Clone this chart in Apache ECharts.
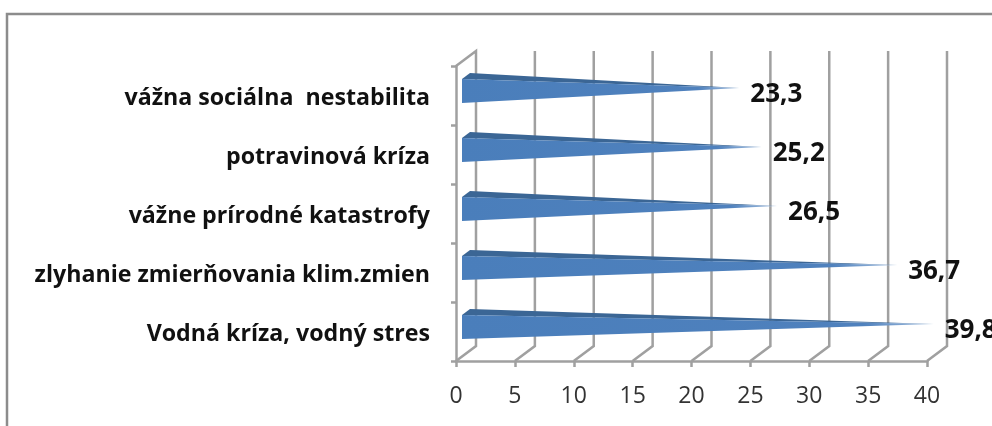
<!DOCTYPE html>
<html>
<head>
<meta charset="utf-8">
<style>html,body{margin:0;padding:0;background:#fff}#c{width:992px;height:426px}</style>
<script src="https://cdn.jsdelivr.net/npm/echarts@6/dist/echarts.min.js"></script>
</head>
<body>
<div id="c"></div>
<script>
const categories = ['Vodná kríza, vodný stres','zlyhanie zmierňovania klim.zmien','vážne prírodné katastrofy','potravinová kríza','vážna sociálna  nestabilita'];
const values = [39.8,36.7,26.5,25.2,23.3];
const valueLabels = ['39,8','36,7','26,5','25,2','23,3'];
const wallTicks = [0,5,10,15,20,25,30,35,40];

const depthX = 20, depthY = 15, GRAY = '#a0a0a0';
const chart = echarts.init(document.getElementById('c'), null, {renderer:'canvas'});

function renderWall(params, api){
  const v = api.value(0);
  const x = api.coord([v, 0])[0];
  const top = params.coordSys.y, bottom = top + params.coordSys.height;
  const points = v === 0
    ? [[x, bottom], [x+depthX, bottom-depthY], [x+depthX, top-depthY], [x, top]]
    : [[x, bottom], [x+depthX, bottom-depthY], [x+depthX, top-depthY]];
  return {type:'polyline', shape:{points}, silent:true, style:{fill:null, stroke:GRAY, lineWidth:2.5}};
}
function renderWedge(params, api){
  const i = api.value(1);
  const tip = api.coord([api.value(0), i]);
  const base = api.coord([0, i]);
  const tx = tip[0]+9, cy = tip[1]-7.5, cyFront = cy+3;
  const front = [[base[0]+6, cyFront-12],[base[0]+6, cyFront+12],[tx, cy]];
  const topFace = [[base[0]+6, cyFront-12],[base[0]+14, cyFront-18],[tx, cy]];
  return {type:'group', children:[
    {type:'polygon', shape:{points:topFace}, style:{fill:'#3b6695'}},
    {type:'polygon', shape:{points:front}, style:{fill:new echarts.graphic.LinearGradient(0,0,1,0,[
      {offset:0,color:'#4a7ebb'},{offset:0.85,color:'#4f81bd'},{offset:1,color:'#a9c3e2'}])}},
    {type:'text', style:{x:tx+11, y:cy+7, text:valueLabels[i], fill:'#111',
      font:'bold 26px "Open Sans"', align:'left', verticalAlign:'middle'}}
  ]};
}

chart.setOption({
  animation:false,
  backgroundColor:'#fff',
  grid:{left:456, top:66, width:471, height:295, containLabel:false},
  xAxis:{type:'value', min:0, max:40, interval:5, splitLine:{show:false},
    axisLine:{show:true, lineStyle:{color:GRAY, width:2.5}},
    axisTick:{show:true, length:6, lineStyle:{color:GRAY, width:2.5}},
    axisLabel:{color:'#333', fontFamily:'Open Sans', fontSize:23, margin:24}},
  yAxis:{type:'category', data:categories, axisLine:{show:true, onZero:false, lineStyle:{color:GRAY, width:2.5}},
    axisTick:{show:true, length:5, lineStyle:{color:GRAY, width:2.5}},
    axisLabel:{margin:26, formatter:v=>'{a|'+v+'}',
      rich:{a:{color:'#111', fontFamily:'Open Sans', fontWeight:'bold', fontSize:23.2, padding:[5,0,0,0]}}}},
  series:[
    {type:'custom', renderItem:renderWall, data:wallTicks.map(v=>[v]), encode:{x:0}, clip:false, silent:true, z:1},
    {type:'custom', renderItem:renderWedge, data:values.map((v,i)=>[v,i]), encode:{x:0,y:1}, clip:false, z:3}
  ],
  graphic:[
    {type:'polyline', silent:true, shape:{points:[[7,426],[7,14],[992,14]]}, style:{fill:null, stroke:'#8c8c8c', lineWidth:2.5}}
  ]
});
</script>
</body>
</html>
